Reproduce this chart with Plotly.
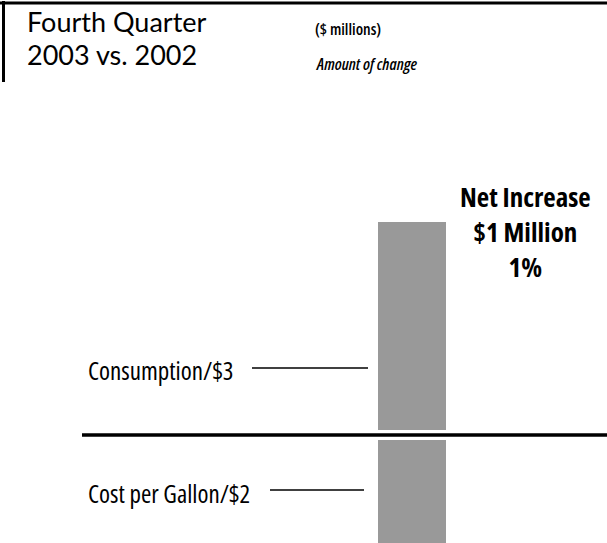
import plotly.graph_objects as go

W, H = 607, 543

# Fourth-quarter change components, $ millions
period = ["2003 vs. 2002"]
components = ["Consumption", "Cost per Gallon"]
changes = [3, -2]
label_texts = ["Consumption/$3", "Cost per Gallon/$2"]
net_change = sum(changes)
net_pct = 1

BAR_GRAY = "#999999"
COND = "Open Sans, DejaVu Sans Condensed, sans-serif"
BOOK = "Lato, Noto Sans, sans-serif"


def px(x):
    return x / W


def py(y):
    return 1 - y / H


def cond(s):
    return f"<span style='font-stretch:condensed'>{s}</span>"


fig = go.Figure()
for name, val in zip(components, changes):
    fig.add_trace(go.Bar(
        x=period, y=[val], name=name, width=1,
        marker=dict(color=BAR_GRAY, line=dict(color="white", width=10)),
        hoverinfo="name+y",
    ))

shapes = [
    # header rules
    dict(type="line", xref="paper", yref="paper", x0=0, x1=1, y0=py(3), y1=py(3),
         line=dict(color="black", width=3)),
    dict(type="line", xref="paper", yref="paper", x0=px(3.5), x1=px(3.5), y0=py(1), y1=py(82),
         line=dict(color="black", width=3)),
    # zero line
    dict(type="line", xref="paper", yref="y", x0=px(82), x1=1, y0=0, y1=0,
         line=dict(color="black", width=3.5)),
    # leader lines
    dict(type="line", xref="paper", yref="paper", x0=px(252), x1=px(368), y0=py(368), y1=py(368),
         line=dict(color="black", width=1.5)),
    dict(type="line", xref="paper", yref="paper", x0=px(270), x1=px(364), y0=py(490), y1=py(490),
         line=dict(color="black", width=1.5)),
]

annotations = [
    dict(text="Fourth Quarter", x=px(25), y=py(21), font=dict(family=BOOK, size=27)),
    dict(text="2003 vs. 2002", x=px(25), y=py(55), font=dict(family=BOOK, size=27)),
    dict(text=cond("($ millions)"), x=px(313), y=py(29), font=dict(family=COND, size=16, weight=600)),
    dict(text=cond("<i>Amount of change</i>"), x=px(313), y=py(63), font=dict(family=COND, size=16.5, weight=600)),
    dict(text=cond(label_texts[0]), x=px(86), y=py(370), font=dict(family=COND, size=25, weight=500)),
    dict(text=cond(label_texts[1]), x=px(86), y=py(493), font=dict(family=COND, size=25, weight=500)),
    dict(text=cond(f"<b>Net Increase</b><br><b>${net_change} Million</b><br><b>{net_pct}%</b>"),
         x=px(525), y=py(231), xanchor="center", align="center",
         font=dict(family=COND, size=27)),
]
for a in annotations:
    a.setdefault("xanchor", "left")
    a.update(xref="paper", yref="paper", yanchor="middle", showarrow=False)
    a["font"].setdefault("color", "black")

# pixel scale: baseline at y=435, 72.7 px per $1 million
scale = 72.7
base_px = 435
bar_center = 412
bar_px = 78

fig.update_layout(
    width=W, height=H,
    margin=dict(l=0, r=0, t=0, b=0),
    paper_bgcolor="white", plot_bgcolor="white",
    barmode="relative", showlegend=False,
    xaxis=dict(type="category", visible=False,
               range=[-bar_center / bar_px, (W - bar_center) / bar_px]),
    yaxis=dict(visible=False, range=[-(H - base_px) / scale, base_px / scale]),
    shapes=shapes, annotations=annotations,
)

fig.write_html("out.html")
